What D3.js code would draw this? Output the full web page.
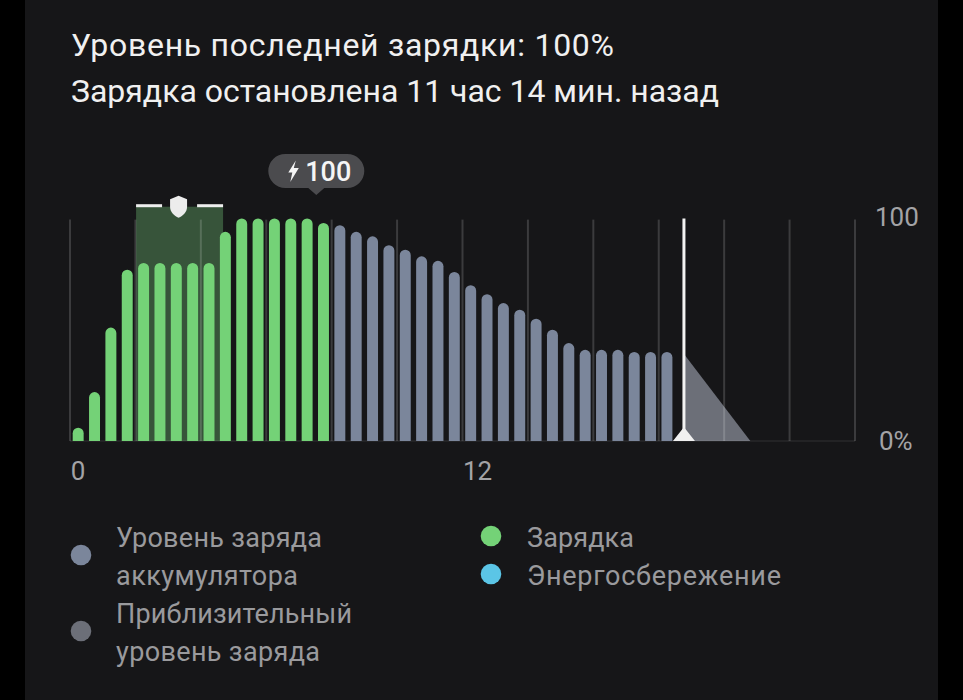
<!DOCTYPE html>
<html><head><meta charset="utf-8">
<script src="https://cdnjs.cloudflare.com/ajax/libs/d3/7.8.5/d3.min.js"></script>
<style>html,body{margin:0;padding:0;background:#000;overflow:hidden}svg{display:block}text{font-family:Roboto,"Noto Sans",sans-serif}</style>
</head><body><svg id="c" width="963" height="700"></svg>
<script>
const titleLines = ["Уровень последней зарядки: 100%", "Зарядка остановлена 11 час 14 мин. назад"];
const chargingLevels = [6, 22, 51, 77, 80, 80, 80, 80, 80, 94, 100, 100, 100, 100, 100, 98];
const batteryLevels = [97, 94, 92, 88, 86, 83, 81, 76, 70, 66, 62, 59, 55, 50, 44, 41, 41, 41, 40, 40, 40];
const hourTicks = [0, 2, 4, 6, 8, 10, 12, 14, 16, 18, 20, 22, 24];
const xLabels = [{hour: 0, text: "0"}, {hour: 12, text: "12"}];
const yLabels = [{value: 100, text: "100"}, {value: 0, text: "0%"}];
const projected = [[18.8, 38.5], [20.8, 0]];
const protectedBand = [2.02, 4.68];
const nowHour = 18.77;
const peakHour = 7.53;
const peakLabel = "100";
const legendLeft = [{lines: ["Уровень заряда", "аккумулятора"], color: "#7b869b"}, {lines: ["Приблизительный", "уровень заряда"], color: "#6c6f78"}];
const legendRight = [{lines: ["Зарядка"], color: "#74d277"}, {lines: ["Энергосбережение"], color: "#5bc5e6"}];

const svg = d3.select("#c");
const x = d3.scaleLinear().domain([0, 24]).range([70, 855]);
const y = d3.scaleLinear().domain([0, 100]).range([441, 218.5]);

// rendered text widths, to follow the wider face of the original
const textWidths = new Map([
  [titleLines[0], 543], [titleLines[1], 648],
  ["Уровень заряда", 206], ["аккумулятора", 182], ["Приблизительный", 236],
  ["уровень заряда", 204], ["Зарядка", 107], ["Энергосбережение", 254]
]);

svg.append("rect").attr("x", 25).attr("y", 0).attr("width", 913).attr("height", 700).attr("fill", "#161618");

svg.selectAll(".title").data(titleLines).join("text").attr("class", "title")
  .attr("x", 71).attr("y", (d, i) => 56 + i * 46).attr("fill", "#f0f0f0")
  .attr("font-size", 32).attr("textLength", d => textWidths.get(d)).attr("lengthAdjust", "spacing").text(d => d);

const bandTop = y(105.3);
svg.append("rect").attr("x", x(protectedBand[0])).attr("y", bandTop)
  .attr("width", x(protectedBand[1]) - x(protectedBand[0])).attr("height", y(0) - bandTop).attr("fill", "#37543a");

svg.append("path")
  .attr("d", d3.line().x(d => x(d[0])).y(d => y(d[1]))([projected[0], projected[1], [projected[0][0], 0]]) + "Z")
  .attr("fill", "#6c6f78");

svg.selectAll(".grid").data(hourTicks).join("line").attr("class", "grid")
  .attr("x1", d => x(d)).attr("x2", d => x(d)).attr("y1", y(99.5)).attr("y2", y(0))
  .attr("stroke", "#fff").attr("stroke-opacity", 0.16).attr("stroke-width", 2);
svg.append("line").attr("x1", x(0)).attr("x2", x(24)).attr("y1", y(0)).attr("y2", y(0))
  .attr("stroke", "#fff").attr("stroke-opacity", 0.08).attr("stroke-width", 1.5);

const bars = chargingLevels.map((v, i) => ({v, i, c: "#74d277"}))
  .concat(batteryLevels.map((v, i) => ({v, i: i + chargingLevels.length, c: "#7b869b"})));
const barW = x(0.335) - x(0);
const barPath = d => {
  const cx = x((d.i + 0.5) / 2), l = cx - barW / 2, r = cx + barW / 2, t = y(d.v), b = y(0), rad = Math.min(barW / 2, b - t);
  return `M${l},${b}L${l},${t + rad}A${rad},${rad} 0 0 1 ${r},${t + rad}L${r},${b}Z`;
};
svg.selectAll(".bar").data(bars).join("path").attr("class", "bar").attr("d", barPath).attr("fill", d => d.c);

svg.append("line").attr("x1", x(nowHour)).attr("x2", x(nowHour)).attr("y1", y(100)).attr("y2", y(0))
  .attr("stroke", "#f2f2f2").attr("stroke-width", 3);
svg.append("path").attr("transform", `translate(${x(nowHour)},${y(0)})`).attr("d", "M-11,0L-1.5,-12Q0,-14 1.5,-12L11,0Z").attr("fill", "#f0f0f0");

const bandMid = x((protectedBand[0] + protectedBand[1]) / 2);
svg.append("rect").attr("x", x(protectedBand[0])).attr("y", bandTop - 2.5).attr("width", 26).attr("height", 3).attr("fill", "#eee");
svg.append("rect").attr("x", x(protectedBand[1]) - 26).attr("y", bandTop - 2.5).attr("width", 26).attr("height", 3).attr("fill", "#eee");
svg.append("path").attr("transform", `translate(${bandMid - 1},${bandTop - 11})`)
  .attr("d", "M0,0L8.5,3.5V11C8.5,16.5 4.5,20 0,22C-4.5,20 -8.5,16.5 -8.5,11V3.5Z").attr("fill", "#ececec");

const bx = x(peakHour);
const bubble = svg.append("g").attr("transform", `translate(${bx},171)`);
bubble.append("path").attr("d", "M-31,-17H31A17,17 0 0 1 31,17H8L0,24L-8,17H-31A17,17 0 0 1 -31,-17Z").attr("fill", "#4b4b4e");
bubble.append("path").attr("transform", "translate(-23,0)").attr("d", "M2.5,-10.5L-5,1.5H-1L-3,11L5.5,-3H0.5Z").attr("fill", "#f5f5f5");
bubble.append("text").attr("x", 12).attr("y", 10).attr("text-anchor", "middle").attr("font-size", 27).attr("font-weight", 500).attr("fill", "#f5f5f5").text(peakLabel);

svg.selectAll(".xl").data(xLabels).join("text").attr("class", "xl")
  .attr("x", d => x(d.hour) + 8 + (d.hour ? 7 : 0)).attr("y", 480).attr("text-anchor", "middle")
  .attr("font-size", 26).attr("fill", "#a3a3a6").text(d => d.text);
svg.selectAll(".yl").data(yLabels).join("text").attr("class", "yl")
  .attr("x", d => d.value ? 875 : 879).attr("y", d => y(d.value) + (d.value ? 7 : 9)).attr("font-size", 26).attr("fill", "#a3a3a6").text(d => d.text);

function legend(items, cx, tx, ys) {
  items.forEach((it, k) => {
    const top = ys[k];
    const n = it.lines.length;
    svg.append("circle").attr("cx", cx).attr("cy", top - 10.5 + (n - 1) * 18.5).attr("r", 10.3).attr("fill", it.color);
    it.lines.forEach((t, j) => svg.append("text").attr("x", tx).attr("y", top + j * 38).attr("font-size", 27)
      .attr("textLength", textWidths.get(t)).attr("lengthAdjust", "spacing").attr("fill", "#9a9a9d").text(t));
  });
}
legend(legendLeft, 81, 116, [547, 623]);
legend(legendRight, 491, 527, [546.5, 584.5]);
</script></body></html>
